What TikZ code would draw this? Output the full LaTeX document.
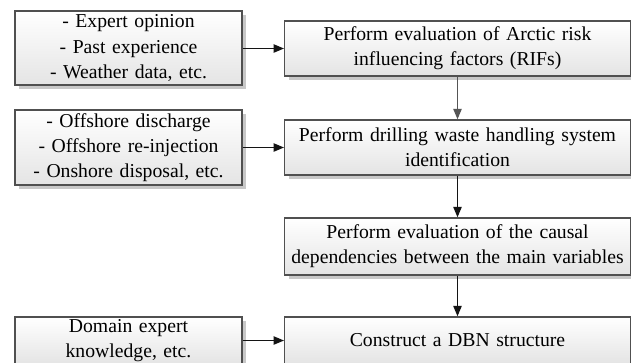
\documentclass[tikz,border=0pt]{standalone}
\usepackage{fontspec}
\setmainfont{Liberation Serif}
\usetikzlibrary{arrows.meta,shadows}
\definecolor{ink}{RGB}{20,20,20}
\definecolor{edge}{RGB}{80,80,80}
\definecolor{shade}{RGB}{200,200,200}
\definecolor{boxlow}{RGB}{228,228,228}
\definecolor{greyarrow}{RGB}{85,85,85}

\begin{document}
\begin{tikzpicture}[
  font=\fontsize{14}{17.8}\selectfont, >={Triangle[length=2.6mm,width=2.1mm]},
  box/.style={draw=edge, line width=1.05pt, top color=white, bottom color=boxlow, align=center,
    inner sep=2pt, drop shadow={shadow xshift=0.1cm, shadow yshift=-0.1cm, fill=shade, opacity=1}},
  inbox/.style={box, minimum width=5.675cm, text width=5.5cm},
  taskbox/.style={box, minimum width=8.625cm, text width=8.5cm},
  flow/.style={->, line width=0.8pt, draw=ink},
]
\clip (0,0) rectangle (15.775,-9.05);
\useasboundingbox (0,0) rectangle (15.775,-9.05);
\fill[white] (0,0) rectangle (15.775,-9.05);

% ------------------------------------------------------------------ inputs
\node[inbox, minimum height=1.85cm] (input1) at (3.2125,-1.2)
  {- Expert opinion\\ - Past experience\\ - Weather data, etc.};
\node[inbox, minimum height=1.875cm] (input2) at (3.2125,-3.6875)
  {- Offshore discharge\\ - Offshore re-injection\\ - Onshore disposal, etc.};
\node[inbox, minimum height=1.15cm] (input3) at (3.2125,-8.525)
  {Domain expert\\ knowledge, etc.};

% ------------------------------------------------------------------ tasks
\node[taskbox, minimum height=1.375cm] (task1) at (11.4375,-1.2125)
  {Perform evaluation of Arctic risk\\ influencing factors (RIFs)};
\node[taskbox, minimum height=1.375cm] (task2) at (11.4375,-3.6875)
  {Perform drilling waste handling system\\ identification};
\node[taskbox, minimum height=1.425cm] (task3) at (11.4375,-6.1625)
  {Perform evaluation of the causal\\ dependencies between the main variables};
\node[taskbox, minimum height=1.175cm] (task4) at (11.4375,-8.5125)
  {Construct a DBN structure};

% ------------------------------------------------------------------ flow
\draw[flow] (task1.west -| input1.east) -- (task1.west);
\draw[flow] (task2.west -| input2.east) -- (task2.west);
\draw[flow] (task4.west -| input3.east) -- (task4.west);
\draw[flow, draw=greyarrow] (task1) -- (task2);
\draw[flow] (task2) -- (task3);
\draw[flow] (task3) -- (task4);
\end{tikzpicture}
\end{document}
